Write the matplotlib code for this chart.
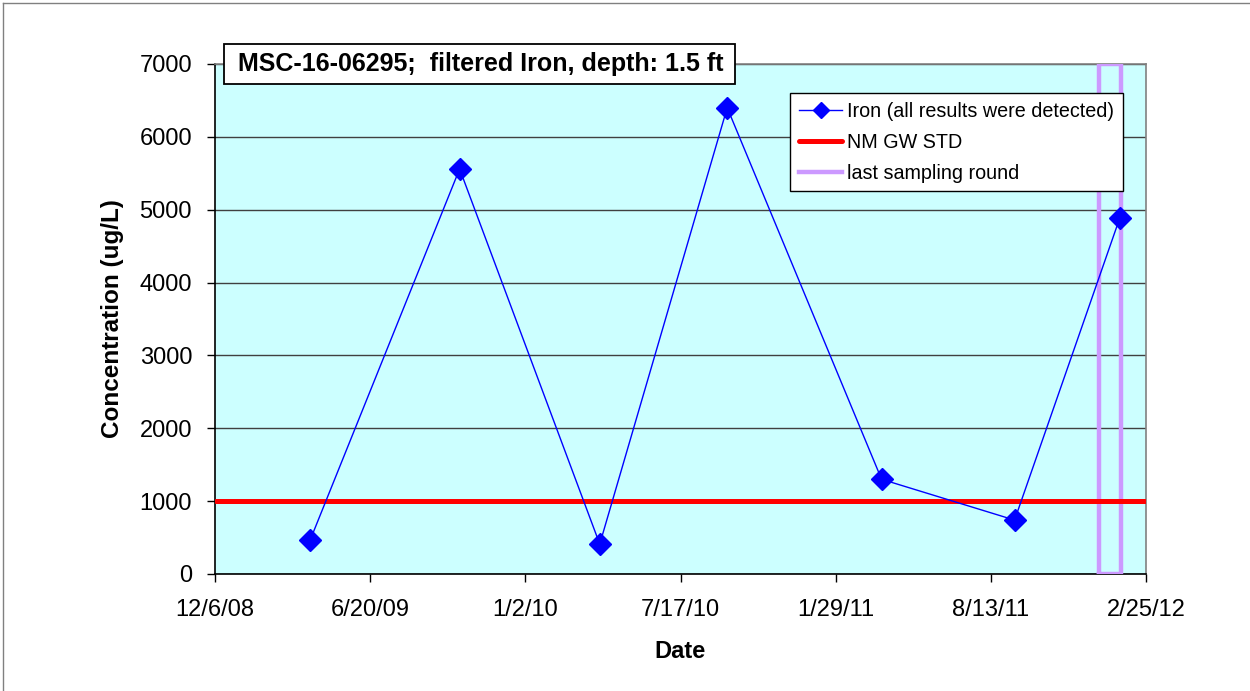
import datetime as dt
import matplotlib
matplotlib.use("Agg")
import matplotlib.pyplot as plt
import matplotlib.dates as mdates
from matplotlib.ticker import FixedLocator, FuncFormatter, MultipleLocator
from matplotlib.lines import Line2D
from matplotlib.patches import Rectangle

plt.rcParams['font.family'] = ['Liberation Sans', 'DejaVu Sans']

# Sample results
sample_dates = ["2009-04-05", "2009-10-11", "2010-04-06", "2010-09-14",
                "2011-03-28", "2011-09-12", "2012-01-23"]
iron_ugL = [460, 5560, 410, 6400, 1300, 740, 4890]

# Groundwater standard
std_dates = ["2008-12-07", "2012-02-24"]
std_values = [1000, 1000]

# Box marking the last sampling round
last_round_dates = ["2011-12-28", "2011-12-28", "2012-01-24", "2012-01-24", "2011-12-28"]
last_round_values = [0, 7000, 7000, 0, 0]

x_start, x_end, x_step_days = "2008-12-06", "2012-02-25", 196

W, H = 1250, 691


def to_num(seq):
    return [mdates.date2num(dt.datetime.fromisoformat(s)) for s in seq]


fig = plt.figure(figsize=(W / 100, H / 100), dpi=100)
ax = fig.add_axes([215 / W, 1 - 574 / H, 931 / W, 510 / H])
ax.set_facecolor("#CCFFFF")

ax.plot(to_num(last_round_dates), last_round_values, color="#CC99FF", lw=3.2,
        solid_joinstyle="miter", label="last sampling round", zorder=3)
ax.plot(to_num(std_dates), std_values, color="#FF0000", lw=3.6,
        solid_capstyle="round", label="NM GW STD", zorder=4)
ax.plot(to_num(sample_dates), iron_ugL, color="#0000FF", lw=1.0, marker="D",
        markersize=11.5, markerfacecolor="#0000FF", markeredgecolor="#0000FF",
        label="Iron (all results were detected)", zorder=5)

x0, x1 = to_num([x_start, x_end])
ax.set_xlim(x0, x1)
ax.set_ylim(0, 7000)
ticks = [x0 + i * x_step_days for i in range(int(round((x1 - x0) / x_step_days)) + 1)]
ax.xaxis.set_major_locator(FixedLocator(ticks))


def fmt_date(v, pos=None):
    d = mdates.num2date(v)
    return f"{d.month}/{d.day}/{d.year % 100:02d}"


ax.xaxis.set_major_formatter(FuncFormatter(fmt_date))
ax.yaxis.set_major_locator(MultipleLocator(1000))
ax.yaxis.grid(True, color="#404040", lw=1.0)
ax.set_axisbelow(True)

ax.tick_params(axis="both", direction="out", length=6, width=1, labelsize=17,
               color="black")
ax.tick_params(axis="x", pad=12)
ax.tick_params(axis="y", pad=10.5)
for side in ("left", "bottom"):
    ax.spines[side].set_color("black")
    ax.spines[side].set_linewidth(1.2)
for side in ("top", "right"):
    ax.spines[side].set_color("#808080")
    ax.spines[side].set_linewidth(1.2)

ax.set_xlabel("Date", fontsize=17, fontweight="bold", va="center")
ax.xaxis.set_label_coords(0.5, (574 - 651) / 510)
ax.set_ylabel("Concentration (ug/L)", fontsize=17.5, fontweight="bold",
              va="center")
ax.yaxis.set_label_coords((113 - 215) / 931, 0.5)

handles, labels = ax.get_legend_handles_labels()
order = [2, 1, 0]
leg = ax.legend([handles[i] for i in order], [labels[i] for i in order],
                loc="upper left", bbox_to_anchor=((790 - 215) / 931, (574 - 93) / 510),
                fontsize=14.2, frameon=True, fancybox=False, shadow=False,
                handlelength=2.2, handletextpad=0.25, borderpad=0.45,
                labelspacing=0.6, borderaxespad=0)
leg.get_frame().set_edgecolor("black")
leg.get_frame().set_linewidth(1.0)
leg.get_frame().set_facecolor("white")
leg.get_frame().set_alpha(1)
leg.legend_handles[0].set_markersize(8)

# Title box
fig.add_artist(Rectangle((224 / W, 1 - 84 / H), (735 - 224) / W, 40 / H,
                         transform=fig.transFigure, facecolor="white",
                         edgecolor="black", lw=1.3, zorder=10))
fig.text(238 / W, 1 - 64 / H, "MSC-16-06295;  filtered Iron, depth: 1.5 ft",
         fontsize=18, fontweight="bold", ha="left", va="center", zorder=11)

# Outer chart border
fig.add_artist(Line2D([3 / W, 3 / W], [0, 1 - 3 / H], color="#808080",
                      lw=1, transform=fig.transFigure))
fig.add_artist(Line2D([3 / W, 1], [1 - 3 / H, 1 - 3 / H], color="#808080",
                      lw=1, transform=fig.transFigure))

fig.savefig("out.png", dpi=100)
